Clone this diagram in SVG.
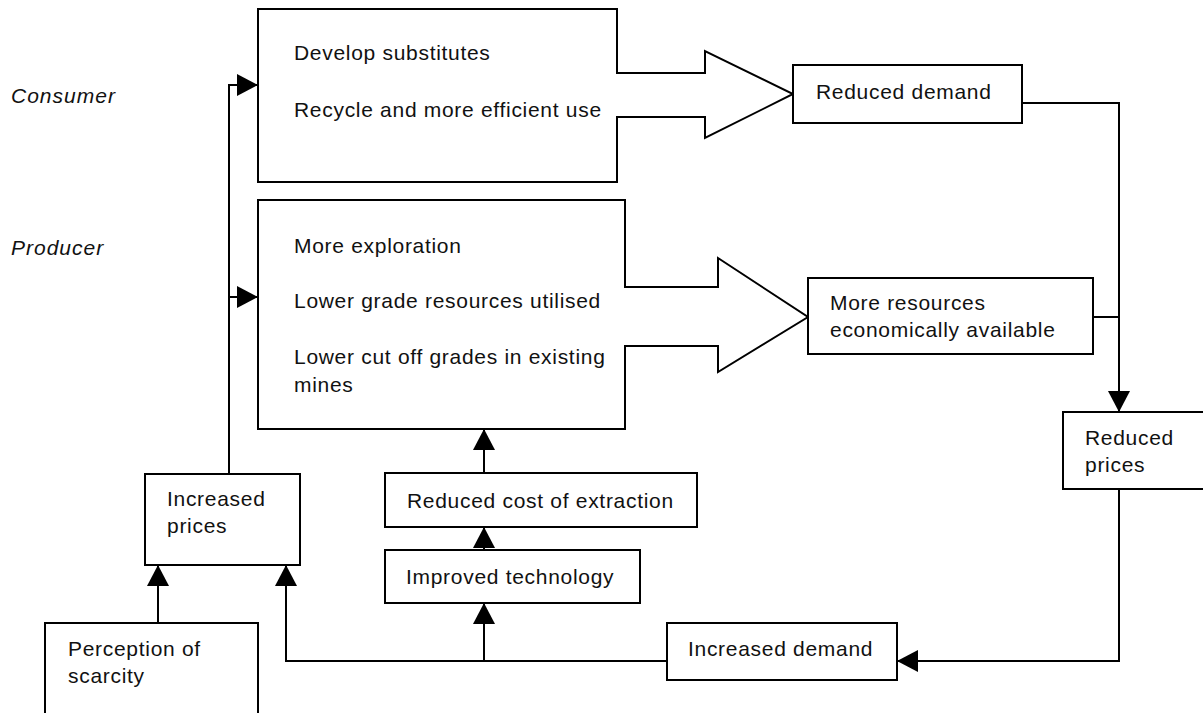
<svg xmlns="http://www.w3.org/2000/svg" width="1203" height="713" viewBox="0 0 1203 713">
<style>
.box{fill:#fff;stroke:#000;stroke-width:2}
.t{font-family:"Liberation Sans",Arial,sans-serif;font-size:21px;letter-spacing:0.7px;fill:#111}
.lab{font-family:"Liberation Sans",Arial,sans-serif;font-size:21px;letter-spacing:1px;font-style:italic;fill:#111}
.c{fill:none;stroke:#000;stroke-width:2}
</style>
<defs>
<marker id="ah" markerUnits="userSpaceOnUse" markerWidth="22" markerHeight="22" refX="21" refY="11" orient="auto" viewBox="0 0 22 22">
<path d="M0,0 L21,11 L0,22 Z" fill="#000"/>
</marker>
</defs>
<rect width="1203" height="713" fill="#fff"/>
<text class="lab" x="11" y="103">Consumer</text>
<text class="lab" x="11" y="255">Producer</text>
<g id="connectors">
<path class="c" d="M229,474 V85 H258" marker-end="url(#ah)"/>
<path class="c" d="M229,297 H258" marker-end="url(#ah)"/>
<path class="c" d="M1022,103 H1119 V412" marker-end="url(#ah)"/>
<path class="c" d="M1093,317 H1119"/>
<path class="c" d="M1119,489 V661 H897" marker-end="url(#ah)"/>
<path class="c" d="M667,661 H286 V565" marker-end="url(#ah)"/>
<path class="c" d="M484,661 V603" marker-end="url(#ah)"/>
<path class="c" d="M484,550 V527" marker-end="url(#ah)"/>
<path class="c" d="M484,473 V429" marker-end="url(#ah)"/>
<path class="c" d="M158,623 V565" marker-end="url(#ah)"/>
</g>
<g id="consumer">
<path class="box" d="M258,9 H617 V73 H705 V51 L793,94 L705,138 V117 H617 V182 H258 Z"/>
<text class="t" x="294" y="60">Develop substitutes</text>
<text class="t" x="294" y="117">Recycle and more efficient use</text>
</g>
<g id="producer">
<path class="box" d="M258,200 H625 V287 H718 V258 L808,317 L718,372 V346 H625 V429 H258 Z"/>
<text class="t" x="294" y="253">More exploration</text>
<text class="t" x="294" y="308">Lower grade resources utilised</text>
<text class="t" x="294" y="364">Lower cut off grades in existing</text>
<text class="t" x="294" y="392">mines</text>
</g>
<g id="reduced-demand">
<rect class="box" x="793" y="65" width="229" height="58"/>
<text class="t" x="816" y="99">Reduced demand</text>
</g>
<g id="more-resources">
<rect class="box" x="808" y="278" width="285" height="76"/>
<text class="t" x="830" y="310">More resources</text>
<text class="t" x="830" y="337">economically available</text>
</g>
<g id="reduced-prices">
<rect class="box" x="1063" y="412" width="145" height="77"/>
<text class="t" x="1085" y="445">Reduced</text>
<text class="t" x="1085" y="472">prices</text>
</g>
<g id="increased-demand">
<rect class="box" x="667" y="623" width="230" height="57"/>
<text class="t" x="688" y="656">Increased demand</text>
</g>
<g id="improved-technology">
<rect class="box" x="385" y="550" width="255" height="53"/>
<text class="t" x="406" y="584">Improved technology</text>
</g>
<g id="reduced-cost">
<rect class="box" x="385" y="473" width="312" height="54"/>
<text class="t" x="407" y="508">Reduced cost of extraction</text>
</g>
<g id="increased-prices">
<rect class="box" x="145" y="474" width="155" height="91"/>
<text class="t" x="167" y="506">Increased</text>
<text class="t" x="167" y="533">prices</text>
</g>
<g id="perception">
<rect class="box" x="45" y="623" width="213" height="100"/>
<text class="t" x="68" y="656">Perception of</text>
<text class="t" x="68" y="683">scarcity</text>
</g>
</svg>
